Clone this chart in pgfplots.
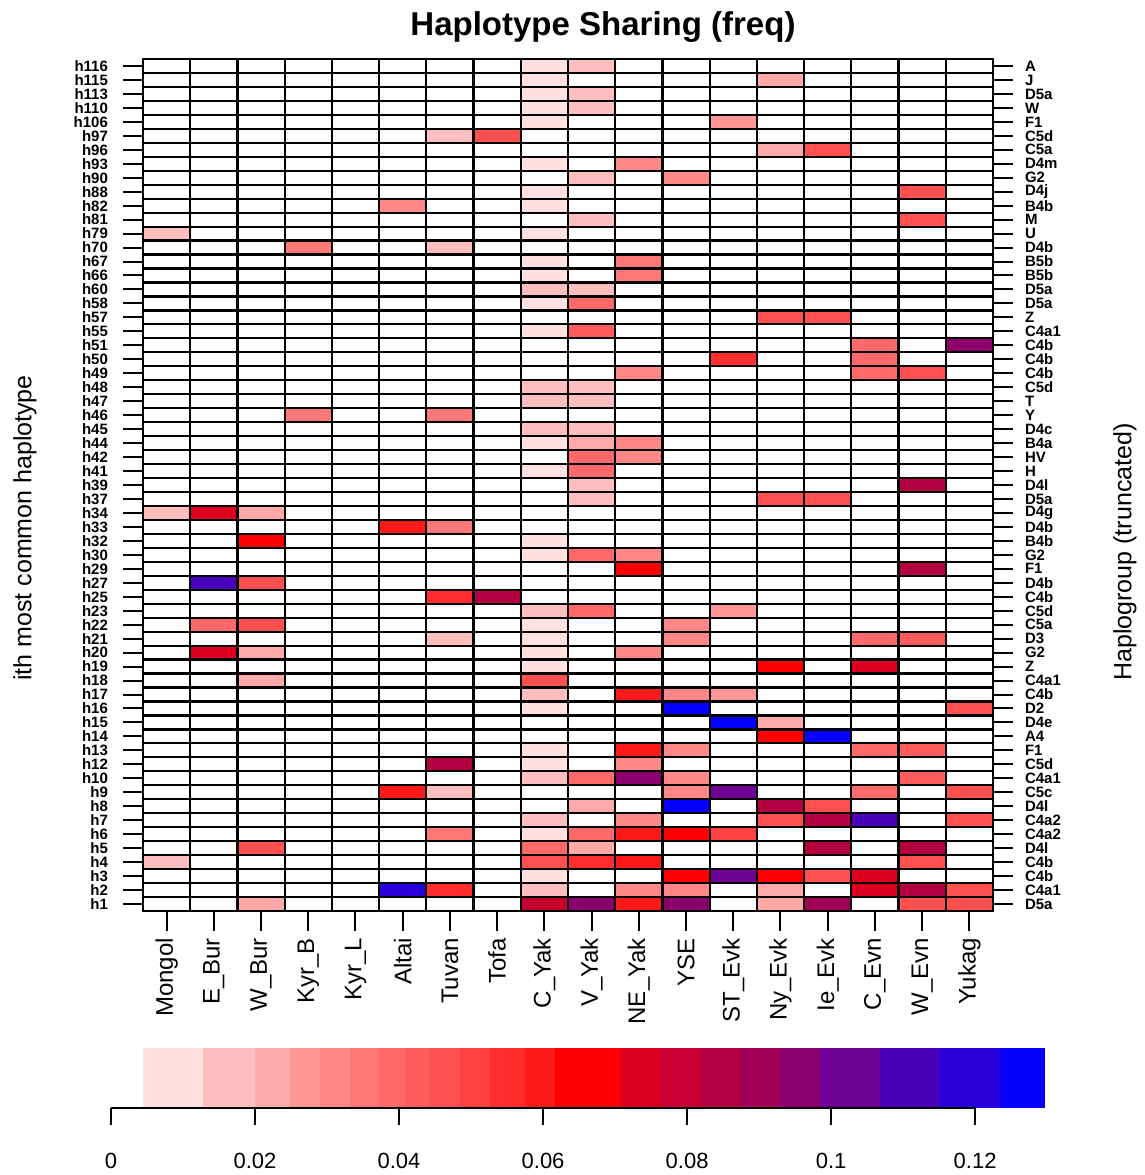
\documentclass[border=0pt]{standalone}
\usepackage{fontspec}
\setmainfont{Liberation Sans}
\setsansfont{Liberation Sans}
\usepackage{pgfplots}
\pgfplotsset{compat=1.18}
\definecolor{cb1}{RGB}{255,225,225}
\definecolor{cb2}{RGB}{255,190,190}
\definecolor{cb3}{RGB}{255,170,170}
\definecolor{cb4}{RGB}{255,150,150}
\definecolor{cb5}{RGB}{255,135,135}
\definecolor{cb6}{RGB}{255,120,120}
\definecolor{cb7}{RGB}{255,105,105}
\definecolor{cb8}{RGB}{255,92,92}
\definecolor{cb9}{RGB}{255,80,80}
\definecolor{cb10}{RGB}{255,65,65}
\definecolor{cb11}{RGB}{255,45,45}
\definecolor{cb12}{RGB}{255,25,25}
\definecolor{cb13}{RGB}{255,0,0}
\definecolor{cb14}{RGB}{220,0,30}
\definecolor{cb15}{RGB}{200,0,50}
\definecolor{cb16}{RGB}{180,0,65}
\definecolor{cb17}{RGB}{160,0,85}
\definecolor{cb18}{RGB}{140,0,110}
\definecolor{cb19}{RGB}{110,0,150}
\definecolor{cb20}{RGB}{75,0,185}
\definecolor{cb21}{RGB}{40,0,220}
\definecolor{cb22}{RGB}{5,0,250}
\begin{document}
\begin{tikzpicture}[x=1pt,y=1pt]
\useasboundingbox (0,0) rectangle (572.5,587.5);
% main heatmap
\begin{axis}[at={(71.5pt,132pt)}, anchor=south west, scale only axis,
  width=425pt, height=426pt,
  xmin=0.5, xmax=18.5, ymin=0.5, ymax=61.5,
  axis on top,
  colormap={hap}{rgb255(0pt)=(255,255,255) rgb255(43pt)=(255,255,255)
    rgb255(45pt)=(255,225,225) rgb255(127pt)=(255,225,225)
    rgb255(129pt)=(255,190,190) rgb255(199pt)=(255,190,190)
    rgb255(201pt)=(255,170,170) rgb255(248pt)=(255,170,170)
    rgb255(250pt)=(255,150,150) rgb255(289pt)=(255,150,150)
    rgb255(291pt)=(255,135,135) rgb255(331pt)=(255,135,135)
    rgb255(333pt)=(255,120,120) rgb255(370pt)=(255,120,120)
    rgb255(372pt)=(255,105,105) rgb255(407pt)=(255,105,105)
    rgb255(409pt)=(255,92,92) rgb255(442pt)=(255,92,92)
    rgb255(444pt)=(255,80,80) rgb255(484pt)=(255,80,80)
    rgb255(486pt)=(255,65,65) rgb255(525pt)=(255,65,65)
    rgb255(527pt)=(255,45,45) rgb255(574pt)=(255,45,45)
    rgb255(576pt)=(255,25,25) rgb255(616pt)=(255,25,25)
    rgb255(618pt)=(255,0,0) rgb255(706pt)=(255,0,0)
    rgb255(708pt)=(220,0,30) rgb255(762pt)=(220,0,30)
    rgb255(764pt)=(200,0,50) rgb255(817pt)=(200,0,50)
    rgb255(819pt)=(180,0,65) rgb255(873pt)=(180,0,65)
    rgb255(875pt)=(160,0,85) rgb255(928pt)=(160,0,85)
    rgb255(930pt)=(140,0,110) rgb255(984pt)=(140,0,110)
    rgb255(986pt)=(110,0,150) rgb255(1067pt)=(110,0,150)
    rgb255(1069pt)=(75,0,185) rgb255(1150pt)=(75,0,185)
    rgb255(1152pt)=(40,0,220) rgb255(1234pt)=(40,0,220)
    rgb255(1236pt)=(5,0,250) rgb255(1297pt)=(5,0,250)},
  point meta min=0, point meta max=0.1297,
  xtick={1,...,18},
  xticklabels={Mongol,E\_Bur,W\_Bur,Kyr\_B,Kyr\_L,Altai,Tuvan,Tofa,C\_Yak,V\_Yak,NE\_Yak,YSE,ST\_Evk,Ny\_Evk,Ie\_Evk,C\_Evn,W\_Evn,Yukag},
  ytick={1,...,61},
  yticklabels={h1,h2,h3,h4,h5,h6,h7,h8,h9,h10,h12,h13,h14,h15,h16,h17,h18,h19,h20,h21,h22,h23,h25,h27,h29,h30,h32,h33,h34,h37,h39,h41,h42,h44,h45,h46,h47,h48,h49,h50,h51,h55,h57,h58,h60,h66,h67,h70,h79,h81,h82,h88,h90,h93,h96,h97,h106,h110,h113,h115,h116},
  xtick pos=bottom, ytick pos=left,
  tick align=outside, major tick length=10pt, minor tick length=0pt,
  minor xtick={0.5,1.5,...,18.5}, minor ytick={0.5,1.5,...,61.5},
  xminorgrids, yminorgrids,
  minor grid style={black, line width=1.1pt},
  axis line style={black, line width=1.2pt},
  tick style={black, line width=1pt},
  xticklabel style={rotate=90, anchor=east, font=\fontsize{12}{12}\selectfont},
  yticklabel style={font=\fontsize{7.5}{7.5}\selectfont\bfseries, xshift=-4pt},
]
\addplot[matrix plot*, mesh/cols=18, point meta=explicit]
  table[row sep=\\,
    x expr={round(\coordindex-18*floor((\coordindex+0.5)/18))+1},
    y expr={floor((\coordindex+0.5)/18)+1}, meta=v]{
v\\
0\\0\\0.022\\0\\0\\0\\0\\0\\0.079\\0.095\\0.060\\0.095\\0\\0.022\\0.090\\0\\0.046\\0.046\\
0\\0\\0\\0\\0\\0.120\\0.055\\0\\0.016\\0\\0.031\\0.031\\0\\0.022\\0\\0.073\\0.085\\0.046\\
0\\0\\0\\0\\0\\0\\0\\0\\0.008\\0\\0\\0.063\\0.103\\0.063\\0.046\\0.073\\0\\0\\
0.016\\0\\0\\0\\0\\0\\0\\0\\0.046\\0.055\\0.060\\0\\0\\0\\0\\0\\0.046\\0\\
0\\0\\0.046\\0\\0\\0\\0\\0\\0.039\\0.022\\0\\0\\0\\0\\0.085\\0\\0.085\\0\\
0\\0\\0\\0\\0\\0\\0.035\\0\\0.008\\0.039\\0.060\\0.063\\0.050\\0\\0\\0\\0\\0\\
0\\0\\0\\0\\0\\0\\0\\0\\0.016\\0\\0.031\\0\\0\\0.046\\0.085\\0.110\\0\\0.046\\
0\\0\\0\\0\\0\\0\\0\\0\\0\\0.022\\0\\0.127\\0\\0.085\\0.046\\0\\0\\0\\
0\\0\\0\\0\\0\\0.060\\0.016\\0\\0\\0\\0\\0.031\\0.103\\0\\0\\0.039\\0\\0.046\\
0\\0\\0\\0\\0\\0\\0\\0\\0.016\\0.039\\0.095\\0.031\\0\\0\\0\\0\\0.042\\0\\
0\\0\\0\\0\\0\\0\\0.085\\0\\0.008\\0\\0.031\\0\\0\\0\\0\\0\\0\\0\\
0\\0\\0\\0\\0\\0\\0\\0\\0.008\\0\\0.060\\0.031\\0\\0\\0\\0.039\\0.042\\0\\
0\\0\\0\\0\\0\\0\\0\\0\\0\\0\\0\\0\\0\\0.066\\0.127\\0\\0\\0\\
0\\0\\0\\0\\0\\0\\0\\0\\0\\0\\0\\0\\0.127\\0.022\\0\\0\\0\\0\\
0\\0\\0\\0\\0\\0\\0\\0\\0.008\\0\\0\\0.127\\0\\0\\0\\0\\0\\0.046\\
0\\0\\0\\0\\0\\0\\0\\0\\0.016\\0\\0.060\\0.031\\0.027\\0\\0\\0\\0\\0\\
0\\0\\0.022\\0\\0\\0\\0\\0\\0.046\\0\\0\\0\\0\\0\\0\\0\\0\\0\\
0\\0\\0\\0\\0\\0\\0\\0\\0.008\\0\\0\\0\\0\\0.066\\0\\0.073\\0\\0\\
0\\0.073\\0.022\\0\\0\\0\\0\\0\\0.008\\0\\0.031\\0\\0\\0\\0\\0\\0\\0\\
0\\0\\0\\0\\0\\0\\0.016\\0\\0.008\\0\\0\\0.031\\0\\0\\0\\0.039\\0.042\\0\\
0\\0.039\\0.046\\0\\0\\0\\0\\0\\0.008\\0\\0\\0.031\\0\\0\\0\\0\\0\\0\\
0\\0\\0\\0\\0\\0\\0\\0\\0.016\\0.039\\0\\0\\0.027\\0\\0\\0\\0\\0\\
0\\0\\0\\0\\0\\0\\0.055\\0.085\\0\\0\\0\\0\\0\\0\\0\\0\\0\\0\\
0\\0.110\\0.046\\0\\0\\0\\0\\0\\0\\0\\0\\0\\0\\0\\0\\0\\0\\0\\
0\\0\\0\\0\\0\\0\\0\\0\\0\\0\\0.063\\0\\0\\0\\0\\0\\0.085\\0\\
0\\0\\0\\0\\0\\0\\0\\0\\0.008\\0.039\\0.031\\0\\0\\0\\0\\0\\0\\0\\
0\\0\\0.066\\0\\0\\0\\0\\0\\0.008\\0\\0\\0\\0\\0\\0\\0\\0\\0\\
0\\0\\0\\0\\0\\0.060\\0.035\\0\\0\\0\\0\\0\\0\\0\\0\\0\\0\\0\\
0.016\\0.073\\0.022\\0\\0\\0\\0\\0\\0\\0\\0\\0\\0\\0\\0\\0\\0\\0\\
0\\0\\0\\0\\0\\0\\0\\0\\0\\0.016\\0\\0\\0\\0.046\\0.046\\0\\0\\0\\
0\\0\\0\\0\\0\\0\\0\\0\\0\\0.016\\0\\0\\0\\0\\0\\0\\0.085\\0\\
0\\0\\0\\0\\0\\0\\0\\0\\0.008\\0.039\\0\\0\\0\\0\\0\\0\\0\\0\\
0\\0\\0\\0\\0\\0\\0\\0\\0\\0.039\\0.031\\0\\0\\0\\0\\0\\0\\0\\
0\\0\\0\\0\\0\\0\\0\\0\\0.008\\0.022\\0.031\\0\\0\\0\\0\\0\\0\\0\\
0\\0\\0\\0\\0\\0\\0\\0\\0.016\\0.016\\0\\0\\0\\0\\0\\0\\0\\0\\
0\\0\\0\\0.035\\0\\0\\0.035\\0\\0\\0\\0\\0\\0\\0\\0\\0\\0\\0\\
0\\0\\0\\0\\0\\0\\0\\0\\0.016\\0.016\\0\\0\\0\\0\\0\\0\\0\\0\\
0\\0\\0\\0\\0\\0\\0\\0\\0.016\\0.016\\0\\0\\0\\0\\0\\0\\0\\0\\
0\\0\\0\\0\\0\\0\\0\\0\\0\\0\\0.031\\0\\0\\0\\0\\0.039\\0.046\\0\\
0\\0\\0\\0\\0\\0\\0\\0\\0\\0\\0\\0\\0.055\\0\\0\\0.039\\0\\0\\
0\\0\\0\\0\\0\\0\\0\\0\\0\\0\\0\\0\\0\\0\\0\\0.039\\0\\0.095\\
0\\0\\0\\0\\0\\0\\0\\0\\0.008\\0.042\\0\\0\\0\\0\\0\\0\\0\\0\\
0\\0\\0\\0\\0\\0\\0\\0\\0\\0\\0\\0\\0\\0.046\\0.046\\0\\0\\0\\
0\\0\\0\\0\\0\\0\\0\\0\\0.008\\0.039\\0\\0\\0\\0\\0\\0\\0\\0\\
0\\0\\0\\0\\0\\0\\0\\0\\0.016\\0.016\\0\\0\\0\\0\\0\\0\\0\\0\\
0\\0\\0\\0\\0\\0\\0\\0\\0.008\\0\\0.035\\0\\0\\0\\0\\0\\0\\0\\
0\\0\\0\\0\\0\\0\\0\\0\\0.008\\0\\0.035\\0\\0\\0\\0\\0\\0\\0\\
0\\0\\0\\0.035\\0\\0\\0.016\\0\\0\\0\\0\\0\\0\\0\\0\\0\\0\\0\\
0.016\\0\\0\\0\\0\\0\\0\\0\\0.008\\0\\0\\0\\0\\0\\0\\0\\0\\0\\
0\\0\\0\\0\\0\\0\\0\\0\\0\\0.016\\0\\0\\0\\0\\0\\0\\0.046\\0\\
0\\0\\0\\0\\0\\0.031\\0\\0\\0.008\\0\\0\\0\\0\\0\\0\\0\\0\\0\\
0\\0\\0\\0\\0\\0\\0\\0\\0.008\\0\\0\\0\\0\\0\\0\\0\\0.046\\0\\
0\\0\\0\\0\\0\\0\\0\\0\\0\\0.016\\0\\0.031\\0\\0\\0\\0\\0\\0\\
0\\0\\0\\0\\0\\0\\0\\0\\0.008\\0\\0.031\\0\\0\\0\\0\\0\\0\\0\\
0\\0\\0\\0\\0\\0\\0\\0\\0\\0\\0\\0\\0\\0.022\\0.046\\0\\0\\0\\
0\\0\\0\\0\\0\\0\\0.016\\0.046\\0\\0\\0\\0\\0\\0\\0\\0\\0\\0\\
0\\0\\0\\0\\0\\0\\0\\0\\0.008\\0\\0\\0\\0.027\\0\\0\\0\\0\\0\\
0\\0\\0\\0\\0\\0\\0\\0\\0.008\\0.016\\0\\0\\0\\0\\0\\0\\0\\0\\
0\\0\\0\\0\\0\\0\\0\\0\\0.008\\0.016\\0\\0\\0\\0\\0\\0\\0\\0\\
0\\0\\0\\0\\0\\0\\0\\0\\0.008\\0\\0\\0\\0\\0.022\\0\\0\\0\\0\\
0\\0\\0\\0\\0\\0\\0\\0\\0.008\\0.016\\0\\0\\0\\0\\0\\0\\0\\0\\
};
\end{axis}
% right-hand haplogroup axis
\begin{axis}[at={(71.5pt,132pt)}, anchor=south west, scale only axis,
  width=425pt, height=426pt,
  xmin=0.5, xmax=18.5, ymin=0.5, ymax=61.5,
  axis x line=none, axis y line*=right,
  y axis line style={draw=none},
  ytick={1,...,61},
  yticklabels={D5a,C4a1,C4b,C4b,D4l,C4a2,C4a2,D4l,C5c,C4a1,C5d,F1,A4,D4e,D2,C4b,C4a1,Z,G2,D3,C5a,C5d,C4b,D4b,F1,G2,B4b,D4b,D4g,D5a,D4l,H,HV,B4a,D4c,Y,T,C5d,C4b,C4b,C4b,C4a1,Z,D5a,D5a,B5b,B5b,D4b,U,M,B4b,D4j,G2,D4m,C5a,C5d,F1,W,D5a,J,A},
  tick align=outside, major tick length=10pt,
  ytick style={black, line width=1pt},
  yticklabel style={font=\fontsize{7.5}{7.5}\selectfont\bfseries, xshift=2.5pt},
]
\addplot[draw=none] coordinates {(1,1)};
\end{axis}
% colour key
\begin{axis}[at={(55.5pt,33.5pt)}, anchor=south west, scale only axis,
  width=467pt, height=30pt,
  xmin=0, xmax=0.1297, ymin=0, ymax=1, clip=false,
  axis y line=none, axis x line*=bottom,
  x axis line style={draw=none},
  xtick={0,0.02,0.04,0.06,0.08,0.1,0.12},
  xticklabels={0,0.02,0.04,0.06,0.08,0.1,0.12},
  tick align=outside, major tick length=8.5pt,
  xtick style={black, line width=1pt},
  xticklabel style={font=\fontsize{11}{11}\selectfont, yshift=-10.5pt},
]
\addplot[fill=cb1,draw=none] coordinates {(0.00444,1) (0.01278,1)} \closedcycle;
\addplot[fill=cb2,draw=none] coordinates {(0.01278,1) (0.0200,1)} \closedcycle;
\addplot[fill=cb3,draw=none] coordinates {(0.0200,1) (0.02486,1)} \closedcycle;
\addplot[fill=cb4,draw=none] coordinates {(0.02486,1) (0.02903,1)} \closedcycle;
\addplot[fill=cb5,draw=none] coordinates {(0.02903,1) (0.0332,1)} \closedcycle;
\addplot[fill=cb6,draw=none] coordinates {(0.0332,1) (0.0371,1)} \closedcycle;
\addplot[fill=cb7,draw=none] coordinates {(0.0371,1) (0.0408,1)} \closedcycle;
\addplot[fill=cb8,draw=none] coordinates {(0.0408,1) (0.0443,1)} \closedcycle;
\addplot[fill=cb9,draw=none] coordinates {(0.0443,1) (0.0485,1)} \closedcycle;
\addplot[fill=cb10,draw=none] coordinates {(0.0485,1) (0.0526,1)} \closedcycle;
\addplot[fill=cb11,draw=none] coordinates {(0.0526,1) (0.0575,1)} \closedcycle;
\addplot[fill=cb12,draw=none] coordinates {(0.0575,1) (0.0617,1)} \closedcycle;
\addplot[fill=cb13,draw=none] coordinates {(0.0617,1) (0.0707,1)} \closedcycle;
\addplot[fill=cb14,draw=none] coordinates {(0.0707,1) (0.0763,1)} \closedcycle;
\addplot[fill=cb15,draw=none] coordinates {(0.0763,1) (0.0818,1)} \closedcycle;
\addplot[fill=cb16,draw=none] coordinates {(0.0818,1) (0.0874,1)} \closedcycle;
\addplot[fill=cb17,draw=none] coordinates {(0.0874,1) (0.0929,1)} \closedcycle;
\addplot[fill=cb18,draw=none] coordinates {(0.0929,1) (0.0985,1)} \closedcycle;
\addplot[fill=cb19,draw=none] coordinates {(0.0985,1) (0.1068,1)} \closedcycle;
\addplot[fill=cb20,draw=none] coordinates {(0.1068,1) (0.1151,1)} \closedcycle;
\addplot[fill=cb21,draw=none] coordinates {(0.1151,1) (0.1235,1)} \closedcycle;
\addplot[fill=cb22,draw=none] coordinates {(0.1235,1) (0.1297,1)} \closedcycle;
\draw[black, line width=1pt] (axis cs:0,0) -- (axis cs:0.12,0);
\end{axis}
\node[font=\bfseries\fontsize{16.5}{16.5}\selectfont] at (301.5,574) {Haplotype Sharing (freq)};
\node[rotate=90, font=\fontsize{12.5}{12.5}\selectfont] at (12.5,323.5) {ith most common haplotype};
\node[rotate=90, font=\fontsize{12.5}{12.5}\selectfont] at (562.5,311.5) {Haplogroup (truncated)};
\end{tikzpicture}
\end{document}
